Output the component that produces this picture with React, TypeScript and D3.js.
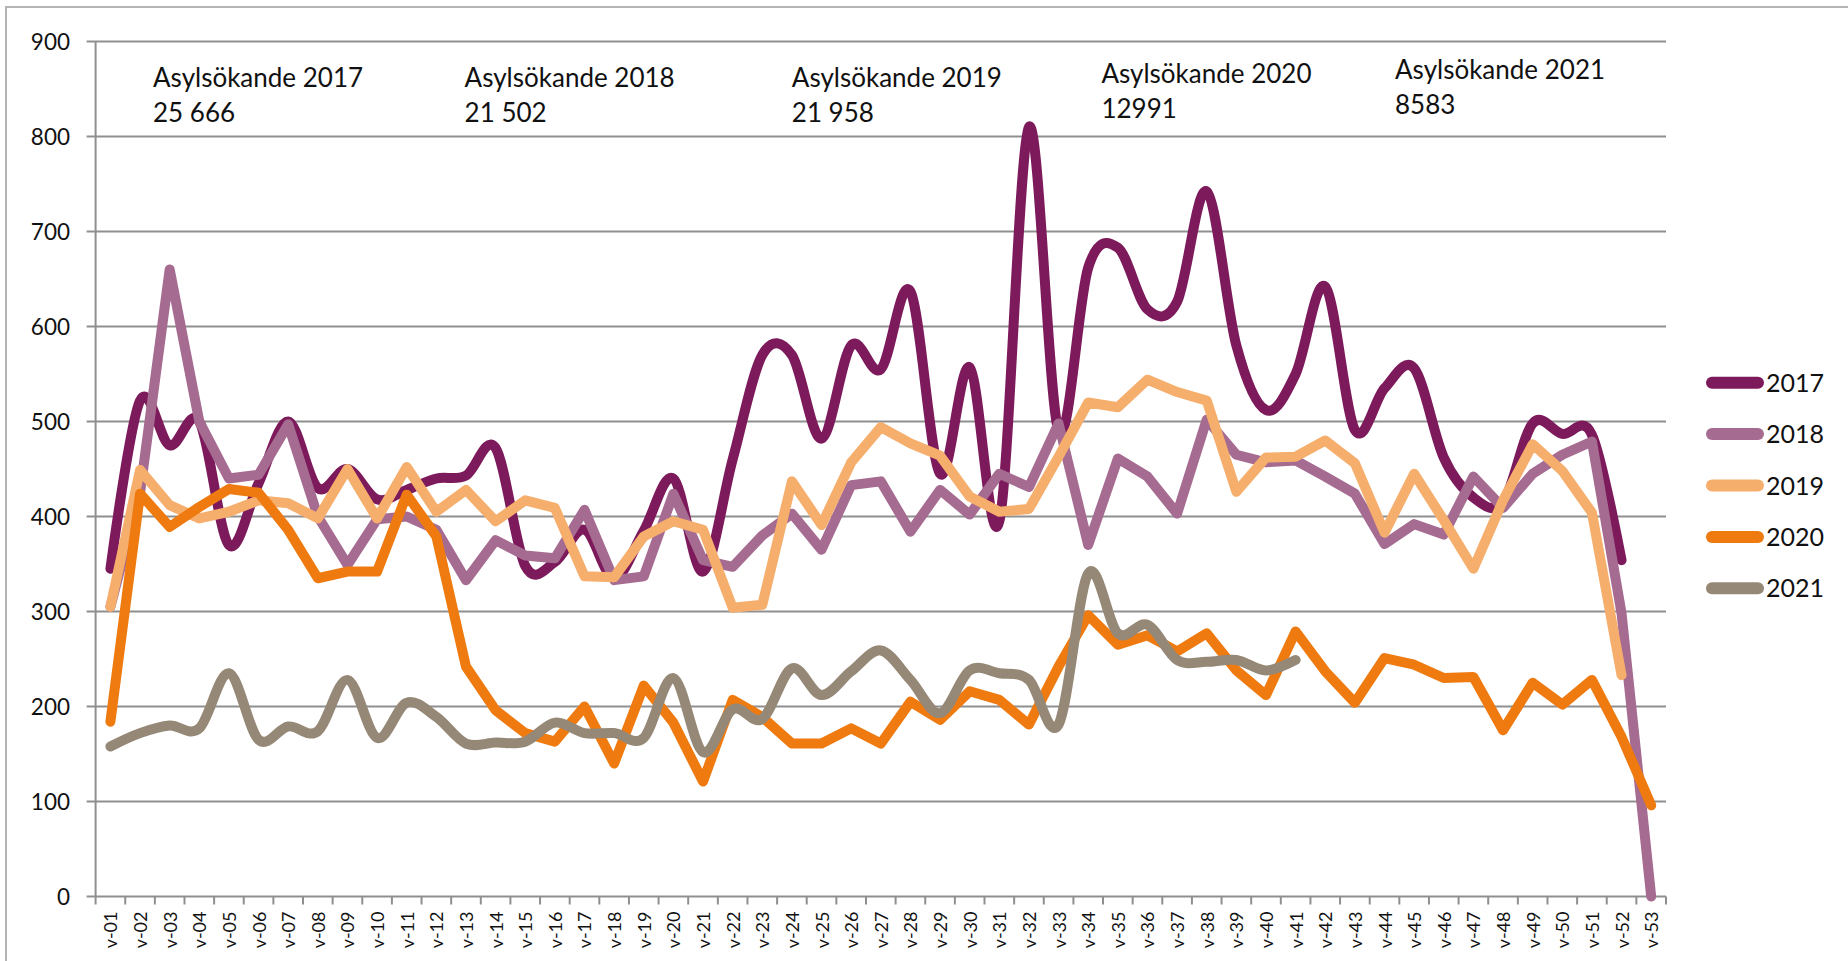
import * as d3 from "d3";

// week labels on the category axis
const weeks = [
  "v-01", "v-02", "v-03", "v-04", "v-05", "v-06", "v-07", "v-08", "v-09", "v-10",
  "v-11", "v-12", "v-13", "v-14", "v-15", "v-16", "v-17", "v-18", "v-19", "v-20",
  "v-21", "v-22", "v-23", "v-24", "v-25", "v-26", "v-27", "v-28", "v-29", "v-30",
  "v-31", "v-32", "v-33", "v-34", "v-35", "v-36", "v-37", "v-38", "v-39", "v-40",
  "v-41", "v-42", "v-43", "v-44", "v-45", "v-46", "v-47", "v-48", "v-49", "v-50",
  "v-51", "v-52", "v-53",
];

const yTicks = [0, 100, 200, 300, 400, 500, 600, 700, 800, 900];

const values2017 = [
  345, 522, 475, 500, 370, 435, 500, 430, 450, 418, 428, 440, 443, 472, 348, 352,
  386, 335, 385, 440, 342, 460, 570, 570, 482, 580, 555, 637, 445, 557, 395, 810,
  490, 662, 683, 618, 626, 742, 580, 512, 550, 642, 491, 535, 556, 462, 420, 415,
  498, 487, 486, 354,
];
const values2018 = [
  305, 425, 660, 500, 440, 444, 497, 400, 349, 397, 400, 386, 333, 375, 359, 356,
  407, 333, 337, 424, 354, 347, 380, 403, 365, 433, 437, 384, 428, 402, 445, 431,
  498, 370, 461, 442, 403, 502, 465, 457, 459, 442, 424, 371, 392, 381, 442, 409,
  445, 465, 479, 298, 0,
];
const values2019 = [
  305, 449, 412, 398, 405, 417, 414, 398, 450, 398, 452, 405, 428, 395, 417, 409,
  337, 336, 379, 395, 386, 304, 307, 437, 391, 457, 494, 477, 464, 421, 405, 408,
  463, 520, 515, 544, 531, 522, 426, 462, 463, 480, 456, 383, 445, 396, 345, 417,
  476, 448, 404, 233,
];
const values2020 = [
  184, 424, 389, 410, 429, 425, 386, 335, 342, 342, 423, 379, 242, 196, 172, 163,
  200, 140, 222, 183, 121, 207, 189, 161, 161, 177, 161, 205, 186, 216, 207, 181,
  242, 296, 265, 275, 258, 277, 238, 212, 279, 237, 204, 251, 244, 230, 231, 175,
  225, 202, 228, 168, 96,
];
const values2021 = [
  158, 172, 180, 177, 235, 165, 179, 174, 228, 167, 204, 189, 161, 162, 163, 183,
  172, 172, 167, 230, 152, 197, 187, 240, 212, 237, 259, 228, 193, 238, 235, 228,
  181, 340, 277, 286, 249, 247, 249, 238, 249,
];

const seriesNames = ["2017", "2018", "2019", "2020", "2021"];
const seriesValues = [values2017, values2018, values2019, values2020, values2021];
const seriesColors = ["#7d1a5b", "#a66b91", "#f6ae6d", "#ee7a10", "#968877"];
const seriesSmooth = [true, false, false, false, true];

const noteTitles = [
  "Asylsökande 2017",
  "Asylsökande 2018",
  "Asylsökande 2019",
  "Asylsökande 2020",
  "Asylsökande 2021",
];
const noteTotals = ["25 666", "21 502", "21 958", "12991", "8583"];

// layout
const W = 1848;
const H = 961;
const plot = { left: 95.6, right: 1666, top: 41.5, bottom: 896.5 };
const noteX = [153, 464.6, 791.8, 1101.4, 1395];
const noteY = [87.3, 87.3, 87.3, 82.7, 79.3];
const noteGap = 35;
const FONT = "Lato, 'Open Sans', sans-serif";
const GRID = "#8f8f8f";

export default function App() {
  const x = d3.scaleBand<string>().domain(weeks).range([plot.left, plot.right]);
  const y = d3.scaleLinear().domain([0, 900]).range([plot.bottom, plot.top]);
  const cx = (i: number) => x(weeks[i])! + x.bandwidth() / 2;

  const smooth = d3
    .line<number>()
    .x((_, i) => cx(i))
    .y((d) => y(d))
    .curve(d3.curveCardinal.tension(0));
  const straight = d3
    .line<number>()
    .x((_, i) => cx(i))
    .y((d) => y(d));

  const boundaries = weeks.map((w) => x(w)!).concat([plot.right]);

  return (
    <svg
      width={W}
      height={H}
      style={{ position: "absolute", left: 0, top: 0, background: "#fff" }}
      fontFamily={FONT}
    >
      <rect x={6} y={7} width={W} height={H} fill="#fff" stroke="#b4b4b4" strokeWidth={2} />

      {/* gridlines + y ticks */}
      {yTicks.map((t) => (
        <g key={t}>
          <line x1={plot.left - 9} x2={plot.right} y1={y(t)} y2={y(t)} stroke={GRID} strokeWidth={2} />
          <text x={70} y={y(t) + 8} textAnchor="end" fontSize={22.5} fill="#111">
            {t}
          </text>
        </g>
      ))}
      <line x1={plot.left} x2={plot.left} y1={plot.top} y2={plot.bottom} stroke={GRID} strokeWidth={2} />

      {/* x ticks + labels */}
      {boundaries.map((bx, i) => (
        <line key={i} x1={bx} x2={bx} y1={plot.bottom} y2={plot.bottom + 8} stroke={GRID} strokeWidth={2} />
      ))}
      {weeks.map((w, i) => (
        <text
          key={w}
          transform={`translate(${cx(i)},${plot.bottom + 15}) rotate(-90)`}
          textAnchor="end"
          dominantBaseline="central"
          fontSize={18}
          fill="#111"
        >
          {w}
        </text>
      ))}

      {/* annotations */}
      {noteTitles.map((t, i) => (
        <g key={t} fontSize={26} fill="#111">
          <text x={noteX[i]} y={noteY[i]}>{t}</text>
          <text x={noteX[i]} y={noteY[i] + noteGap}>{noteTotals[i]}</text>
        </g>
      ))}

      {/* series */}
      {seriesValues.map((vals, s) => (
        <path
          key={seriesNames[s]}
          d={(seriesSmooth[s] ? smooth : straight)(vals) ?? ""}
          fill="none"
          stroke={seriesColors[s]}
          strokeWidth={10}
          strokeLinejoin="round"
          strokeLinecap="round"
        />
      ))}

      {/* legend */}
      {seriesNames.map((n, i) => {
        const ly = 382.7 + i * 51.4;
        return (
          <g key={n}>
            <line x1={1712} x2={1758} y1={ly} y2={ly} stroke={seriesColors[i]} strokeWidth={12} strokeLinecap="round" />
            <text x={1766} y={ly + 9} fontSize={25} fill="#111">
              {n}
            </text>
          </g>
        );
      })}
    </svg>
  );
}
